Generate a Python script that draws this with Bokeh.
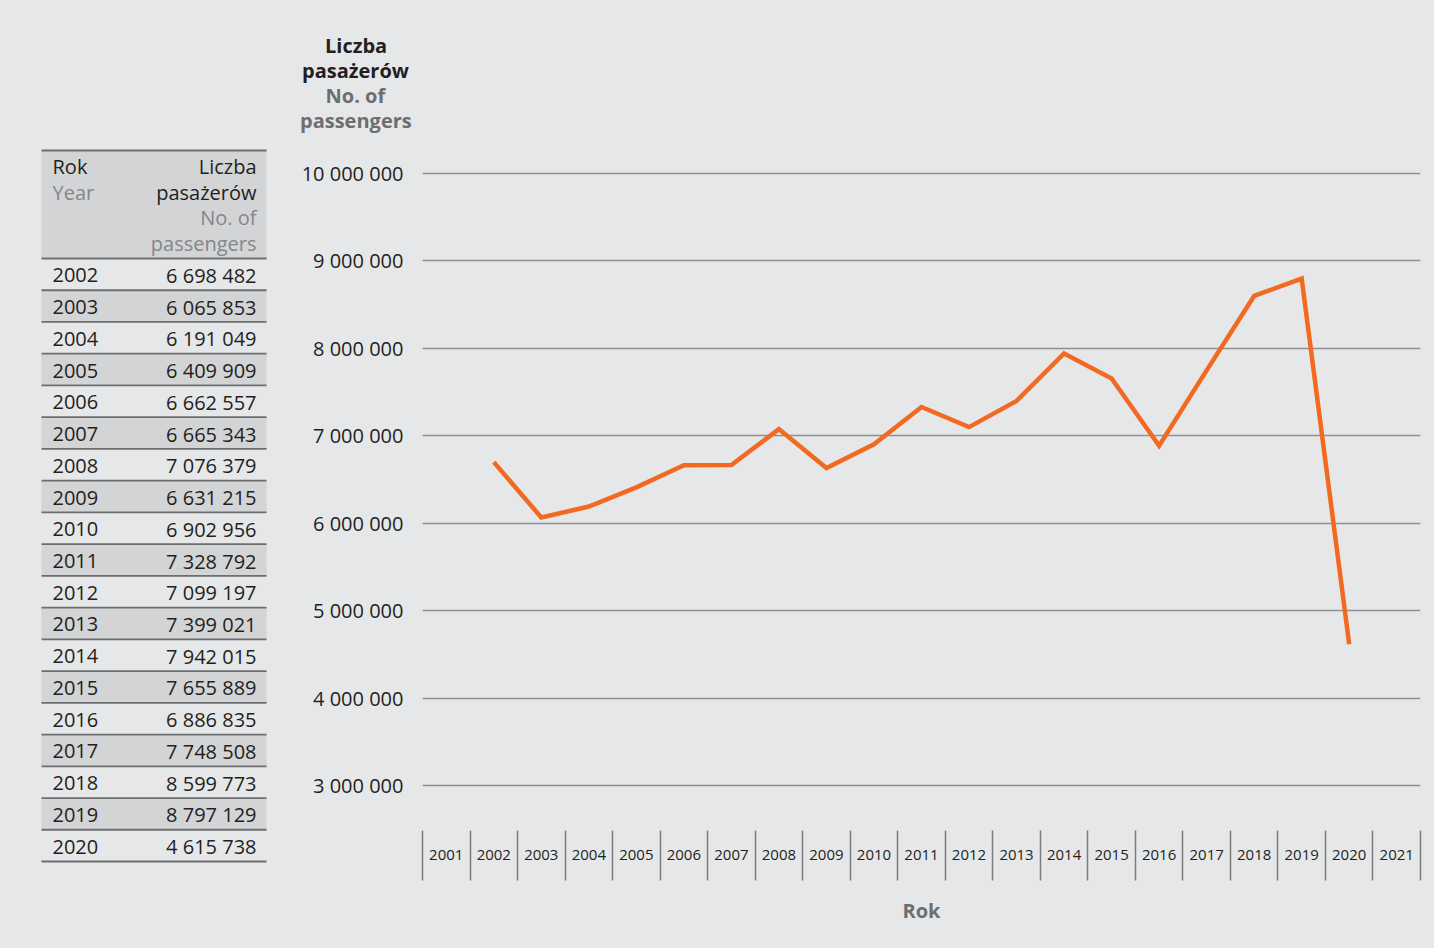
from bokeh.plotting import figure
from bokeh.layouts import row
from bokeh.models import Range1d, FixedTicker, CustomJSTickFormatter, Title
from bokeh.core.properties import value
from bokeh.embed import file_html
from bokeh.resources import INLINE

# ---------------- data ----------------
years = [2002, 2003, 2004, 2005, 2006, 2007, 2008, 2009, 2010, 2011,
         2012, 2013, 2014, 2015, 2016, 2017, 2018, 2019, 2020]
passengers = [6698482, 6065853, 6191049, 6409909, 6662557, 6665343, 7076379,
              6631215, 6902956, 7328792, 7099197, 7399021, 7942015, 7655889,
              6886835, 7748508, 8599773, 8797129, 4615738]
axis_years = list(range(2001, 2022))
y_ticks = [3000000, 4000000, 5000000, 6000000, 7000000, 8000000, 9000000, 10000000]

title_pl = ["Liczba", "pasażerów"]
title_en = ["No. of", "passengers"]
col_year_pl, col_year_en = "Rok", "Year"
x_label = "Rok"

# ---------------- style ----------------
BG = "#e6e7e8"
SHADE = "#d3d4d6"
RULE = "#6d6e70"
DARK = "#231f20"
GREY = "#85868a"
GREY_B = "#6d6e70"
ORANGE = "#f26a21"
FONT = "Open Sans"

TOTAL_H = 948
TABLE_W = 280
CHART_W = 1434 - TABLE_W

# shared frame (page pixels)
frame_top, frame_bot = 131, 880
frame_left, frame_right = 422, 1420

def fmt(v):
    return f"{v:,}".replace(",", " ")

# ---------------- table figure (coords = page pixels) ----------------
t = figure(width=TABLE_W, height=TOTAL_H, output_backend="svg", toolbar_location=None,
           x_range=Range1d(0, TABLE_W), y_range=Range1d(frame_bot, frame_top),
           x_axis_type=None, y_axis_type=None,
           min_border_left=0, min_border_right=0,
           min_border_top=frame_top, min_border_bottom=TOTAL_H - frame_bot,
           styles={"background-color": BG})
t.background_fill_color = BG
t.border_fill_color = BG
t.outline_line_color = None
t.grid.visible = False

tx0, tx1 = 41, 266
head_top, head_bot = 150, 258
row_h = (861 - 258) / len(years)

t.quad(left=[tx0], right=[tx1], top=[head_top], bottom=[head_bot], fill_color=SHADE, line_color=None)
tops = [head_bot + i * row_h for i in range(len(years))]
shade_idx = [i for i in range(len(years)) if i % 2 == 1]
t.quad(left=[tx0] * len(shade_idx), right=[tx1] * len(shade_idx),
       top=[tops[i] for i in shade_idx], bottom=[tops[i] + row_h for i in shade_idx],
       fill_color=SHADE, line_color=None)
rule_y = [head_top, head_bot] + [head_bot + (i + 1) * row_h for i in range(len(years))]
t.segment(x0=[tx0] * len(rule_y), x1=[tx1] * len(rule_y), y0=rule_y, y1=rule_y,
          line_color=RULE, line_width=1.8)

lh = 25.7
hy = 166
t.text(x=[52], y=[hy], text=[col_year_pl], text_font=value(FONT), text_font_size="20px",
       text_color=DARK, text_align="left", text_baseline="middle")
t.text(x=[52], y=[hy + lh], text=[col_year_en], text_font=value(FONT), text_font_size="20px",
       text_color=GREY, text_align="left", text_baseline="middle")
t.text(x=[256, 256], y=[hy, hy + lh], text=title_pl, text_font=value(FONT), text_font_size="20px",
       text_color=DARK, text_align="right", text_baseline="middle")
t.text(x=[256, 256], y=[hy + 2 * lh, hy + 3 * lh], text=title_en, text_font=value(FONT),
       text_font_size="20px", text_color=GREY, text_align="right", text_baseline="middle")

centers = [tp + row_h / 2 + 1 for tp in tops]
t.text(x=[52] * len(years), y=centers, text=[str(y) for y in years], text_font=value(FONT),
       text_font_size="20px", text_color=DARK, text_align="left", text_baseline="middle")
t.text(x=[256] * len(years), y=centers, text=[fmt(v) for v in passengers], text_font=value(FONT),
       text_font_size="20px", text_color=DARK, text_align="right", text_baseline="middle")

# ---------------- chart figure ----------------
px_per_unit = (785 - 173) / 7000000.0
y_start = 3000000 - (frame_bot - 785) / px_per_unit
y_end = 10000000 + (173 - frame_top) / px_per_unit

p = figure(width=CHART_W, height=TOTAL_H, output_backend="svg", toolbar_location=None,
           x_range=Range1d(2000.5, 2021.5), y_range=Range1d(y_start, y_end),
           min_border_left=frame_left - TABLE_W,
           min_border_right=1434 - frame_right,
           min_border_top=frame_top,
           min_border_bottom=TOTAL_H - frame_bot,
           styles={"background-color": BG})
p.background_fill_color = BG
p.border_fill_color = BG
p.outline_line_color = None

yax = p.yaxis[0]
yax.ticker = FixedTicker(ticks=y_ticks)
yax.formatter = CustomJSTickFormatter(code="return Math.round(tick).toString().replace(/\\B(?=(\\d{3})+(?!\\d))/g, ' ');")
yax.axis_line_color = None
yax.major_tick_line_color = None
yax.minor_tick_line_color = None
yax.major_tick_out = 0
yax.major_tick_in = 0
yax.major_label_standoff = 19
yax.major_label_text_font = FONT
yax.major_label_text_font_size = "20px"
yax.major_label_text_color = DARK

p.ygrid.ticker = FixedTicker(ticks=y_ticks)
p.ygrid.grid_line_color = "#8f9092"
p.ygrid.grid_line_width = 1.3
p.xgrid.visible = False

xax = p.xaxis[0]
xax.ticker = FixedTicker(ticks=axis_years,
                         minor_ticks=[y - 0.5 for y in axis_years] + [axis_years[-1] + 0.5])
xax.formatter = CustomJSTickFormatter(code="return Math.round(tick).toString();")
xax.axis_line_color = None
xax.major_tick_line_color = None
xax.major_tick_out = 0
xax.major_tick_in = 0
xax.minor_tick_out = 0
xax.minor_tick_in = 50
xax.minor_tick_line_color = "#7a7b7d"
xax.minor_tick_line_width = 1.5
xax.major_label_standoff = -31
xax.major_label_text_font = FONT
xax.major_label_text_font_size = "15px"
xax.major_label_text_color = DARK
xax.axis_label = x_label
xax.axis_label_text_font = FONT
xax.axis_label_text_font_size = "20px"
xax.axis_label_text_font_style = "bold"
xax.axis_label_text_color = GREY_B
xax.axis_label_standoff = 34

p.line(years, passengers, line_color=ORANGE, line_width=4.5, line_join="miter")

# y-axis title, stacked above the frame (first added = nearest the frame),
# each line centred on x = 355 px using its approximate rendered width
title_center = 355
title_lines = [(title_en[1], GREY_B, 111), (title_en[0], GREY_B, 60),
               (title_pl[1], DARK, 107), (title_pl[0], DARK, 61)]
for txt, col, w in title_lines:
    p.add_layout(Title(text=txt, align="left", offset=title_center - w / 2 - frame_left,
                       standoff=-4,
                       text_font=FONT, text_font_size="20px", text_font_style="bold",
                       text_color=col), "above")

layout = row(t, p, styles={"background-color": BG})
open("out.html", "w").write(file_html(layout, INLINE))
